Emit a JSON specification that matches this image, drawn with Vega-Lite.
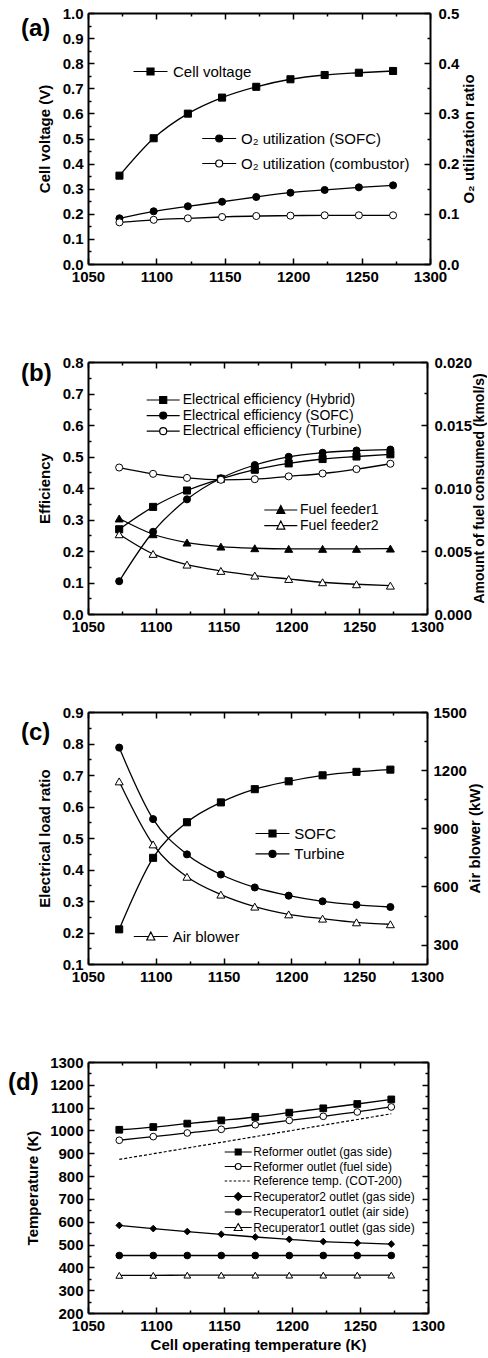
{
"$schema": "https://vega.github.io/schema/vega-lite/v6.json",
"padding": {"left": 8, "top": 6, "right": 0, "bottom": 0},
"spacing": 71,
"resolve": {"scale": {"shape": "independent", "fill": "independent"}, "legend": {"shape": "independent", "fill": "independent"}},
"config": {
  "font": "Liberation Sans",
  "view": {"stroke": null},
  "axis": {"labelFont": "Liberation Sans", "labelFontSize": 15, "labelFontWeight": "bold", "labelColor": "black", "titleFont": "Liberation Sans", "titleFontSize": 15, "titleFontWeight": "bold", "titleColor": "black", "domainColor": "black", "domainWidth": 2, "tickColor": "black", "tickWidth": 1.5, "tickSize": -6, "labelPadding": 11, "grid": false, "labelFlush": false, "labelOverlap": false},
  "legend": {"labelFont": "Liberation Sans", "labelColor": "black", "padding": 0, "offset": 0, "labelLimit": 400},
  "title": {"font": "Liberation Sans", "fontSize": 24, "fontWeight": "bold", "color": "black", "anchor": "start", "frame": "group", "orient": "top", "baseline": "middle", "offset": 0}
},
"datasets": {
  "aL": [
    {"T": 1073, "s": "Cell voltage", "v": 0.352}, {"T": 1098, "s": "Cell voltage", "v": 0.501}, {"T": 1123, "s": "Cell voltage", "v": 0.599}, {"T": 1148, "s": "Cell voltage", "v": 0.663}, {"T": 1173, "s": "Cell voltage", "v": 0.706}, {"T": 1198, "s": "Cell voltage", "v": 0.736}, {"T": 1223, "s": "Cell voltage", "v": 0.753}, {"T": 1248, "s": "Cell voltage", "v": 0.762}, {"T": 1273, "s": "Cell voltage", "v": 0.769}
  ],
  "aR": [
    {"T": 1073, "s": "O₂ utilization (SOFC)", "v": 0.091}, {"T": 1098, "s": "O₂ utilization (SOFC)", "v": 0.105}, {"T": 1123, "s": "O₂ utilization (SOFC)", "v": 0.115}, {"T": 1148, "s": "O₂ utilization (SOFC)", "v": 0.124}, {"T": 1173, "s": "O₂ utilization (SOFC)", "v": 0.1335}, {"T": 1198, "s": "O₂ utilization (SOFC)", "v": 0.142}, {"T": 1223, "s": "O₂ utilization (SOFC)", "v": 0.1475}, {"T": 1248, "s": "O₂ utilization (SOFC)", "v": 0.1527}, {"T": 1273, "s": "O₂ utilization (SOFC)", "v": 0.1567},
    {"T": 1073, "s": "O₂ utilization (combustor)", "v": 0.083}, {"T": 1098, "s": "O₂ utilization (combustor)", "v": 0.088}, {"T": 1123, "s": "O₂ utilization (combustor)", "v": 0.091}, {"T": 1148, "s": "O₂ utilization (combustor)", "v": 0.0936}, {"T": 1173, "s": "O₂ utilization (combustor)", "v": 0.0956}, {"T": 1198, "s": "O₂ utilization (combustor)", "v": 0.0963}, {"T": 1223, "s": "O₂ utilization (combustor)", "v": 0.097}, {"T": 1248, "s": "O₂ utilization (combustor)", "v": 0.097}, {"T": 1273, "s": "O₂ utilization (combustor)", "v": 0.097}
  ],
  "bL": [
    {"T": 1073, "s": "Electrical efficiency (Hybrid)", "v": 0.269}, {"T": 1098, "s": "Electrical efficiency (Hybrid)", "v": 0.340}, {"T": 1123, "s": "Electrical efficiency (Hybrid)", "v": 0.392}, {"T": 1148, "s": "Electrical efficiency (Hybrid)", "v": 0.429}, {"T": 1173, "s": "Electrical efficiency (Hybrid)", "v": 0.458}, {"T": 1198, "s": "Electrical efficiency (Hybrid)", "v": 0.478}, {"T": 1223, "s": "Electrical efficiency (Hybrid)", "v": 0.492}, {"T": 1248, "s": "Electrical efficiency (Hybrid)", "v": 0.500}, {"T": 1273, "s": "Electrical efficiency (Hybrid)", "v": 0.507},
    {"T": 1073, "s": "Electrical efficiency (SOFC)", "v": 0.104}, {"T": 1098, "s": "Electrical efficiency (SOFC)", "v": 0.261}, {"T": 1123, "s": "Electrical efficiency (SOFC)", "v": 0.364}, {"T": 1148, "s": "Electrical efficiency (SOFC)", "v": 0.431}, {"T": 1173, "s": "Electrical efficiency (SOFC)", "v": 0.473}, {"T": 1198, "s": "Electrical efficiency (SOFC)", "v": 0.499}, {"T": 1223, "s": "Electrical efficiency (SOFC)", "v": 0.512}, {"T": 1248, "s": "Electrical efficiency (SOFC)", "v": 0.519}, {"T": 1273, "s": "Electrical efficiency (SOFC)", "v": 0.522},
    {"T": 1073, "s": "Electrical efficiency (Turbine)", "v": 0.465}, {"T": 1098, "s": "Electrical efficiency (Turbine)", "v": 0.445}, {"T": 1123, "s": "Electrical efficiency (Turbine)", "v": 0.432}, {"T": 1148, "s": "Electrical efficiency (Turbine)", "v": 0.426}, {"T": 1173, "s": "Electrical efficiency (Turbine)", "v": 0.428}, {"T": 1198, "s": "Electrical efficiency (Turbine)", "v": 0.437}, {"T": 1223, "s": "Electrical efficiency (Turbine)", "v": 0.446}, {"T": 1248, "s": "Electrical efficiency (Turbine)", "v": 0.460}, {"T": 1273, "s": "Electrical efficiency (Turbine)", "v": 0.477}
  ],
  "bR": [
    {"T": 1073, "s": "Fuel feeder1", "v": 0.00758}, {"T": 1098, "s": "Fuel feeder1", "v": 0.00633}, {"T": 1123, "s": "Fuel feeder1", "v": 0.00567}, {"T": 1148, "s": "Fuel feeder1", "v": 0.00535}, {"T": 1173, "s": "Fuel feeder1", "v": 0.00522}, {"T": 1198, "s": "Fuel feeder1", "v": 0.00517}, {"T": 1223, "s": "Fuel feeder1", "v": 0.00517}, {"T": 1248, "s": "Fuel feeder1", "v": 0.00517}, {"T": 1273, "s": "Fuel feeder1", "v": 0.00519},
    {"T": 1073, "s": "Fuel feeder2", "v": 0.00633}, {"T": 1098, "s": "Fuel feeder2", "v": 0.00477}, {"T": 1123, "s": "Fuel feeder2", "v": 0.00392}, {"T": 1148, "s": "Fuel feeder2", "v": 0.00342}, {"T": 1173, "s": "Fuel feeder2", "v": 0.00305}, {"T": 1198, "s": "Fuel feeder2", "v": 0.00278}, {"T": 1223, "s": "Fuel feeder2", "v": 0.00252}, {"T": 1248, "s": "Fuel feeder2", "v": 0.00236}, {"T": 1273, "s": "Fuel feeder2", "v": 0.00225}
  ],
  "cL": [
    {"T": 1073, "s": "SOFC", "v": 0.210}, {"T": 1098, "s": "SOFC", "v": 0.437}, {"T": 1123, "s": "SOFC", "v": 0.550}, {"T": 1148, "s": "SOFC", "v": 0.613}, {"T": 1173, "s": "SOFC", "v": 0.655}, {"T": 1198, "s": "SOFC", "v": 0.680}, {"T": 1223, "s": "SOFC", "v": 0.699}, {"T": 1248, "s": "SOFC", "v": 0.710}, {"T": 1273, "s": "SOFC", "v": 0.717},
    {"T": 1073, "s": "Turbine", "v": 0.787}, {"T": 1098, "s": "Turbine", "v": 0.560}, {"T": 1123, "s": "Turbine", "v": 0.448}, {"T": 1148, "s": "Turbine", "v": 0.384}, {"T": 1173, "s": "Turbine", "v": 0.343}, {"T": 1198, "s": "Turbine", "v": 0.317}, {"T": 1223, "s": "Turbine", "v": 0.299}, {"T": 1248, "s": "Turbine", "v": 0.288}, {"T": 1273, "s": "Turbine", "v": 0.281}
  ],
  "cR": [
    {"T": 1073, "s": "Air blower", "v": 1142}, {"T": 1098, "s": "Air blower", "v": 817}, {"T": 1123, "s": "Air blower", "v": 650}, {"T": 1148, "s": "Air blower", "v": 558}, {"T": 1173, "s": "Air blower", "v": 496}, {"T": 1198, "s": "Air blower", "v": 456}, {"T": 1223, "s": "Air blower", "v": 434}, {"T": 1248, "s": "Air blower", "v": 415}, {"T": 1273, "s": "Air blower", "v": 405}
  ],
  "dM": [
    {"T": 1073, "s": "Reformer outlet (gas side)", "v": 1003}, {"T": 1098, "s": "Reformer outlet (gas side)", "v": 1015}, {"T": 1123, "s": "Reformer outlet (gas side)", "v": 1030}, {"T": 1148, "s": "Reformer outlet (gas side)", "v": 1044}, {"T": 1173, "s": "Reformer outlet (gas side)", "v": 1059}, {"T": 1198, "s": "Reformer outlet (gas side)", "v": 1078}, {"T": 1223, "s": "Reformer outlet (gas side)", "v": 1097}, {"T": 1248, "s": "Reformer outlet (gas side)", "v": 1116}, {"T": 1273, "s": "Reformer outlet (gas side)", "v": 1136},
    {"T": 1073, "s": "Reformer outlet (fuel side)", "v": 957}, {"T": 1098, "s": "Reformer outlet (fuel side)", "v": 973}, {"T": 1123, "s": "Reformer outlet (fuel side)", "v": 989}, {"T": 1148, "s": "Reformer outlet (fuel side)", "v": 1005}, {"T": 1173, "s": "Reformer outlet (fuel side)", "v": 1025}, {"T": 1198, "s": "Reformer outlet (fuel side)", "v": 1044}, {"T": 1223, "s": "Reformer outlet (fuel side)", "v": 1062}, {"T": 1248, "s": "Reformer outlet (fuel side)", "v": 1081}, {"T": 1273, "s": "Reformer outlet (fuel side)", "v": 1103},
    {"T": 1073, "s": "Recuperator2 outlet (gas side)", "v": 584}, {"T": 1098, "s": "Recuperator2 outlet (gas side)", "v": 570}, {"T": 1123, "s": "Recuperator2 outlet (gas side)", "v": 557}, {"T": 1148, "s": "Recuperator2 outlet (gas side)", "v": 545}, {"T": 1173, "s": "Recuperator2 outlet (gas side)", "v": 533}, {"T": 1198, "s": "Recuperator2 outlet (gas side)", "v": 523}, {"T": 1223, "s": "Recuperator2 outlet (gas side)", "v": 513}, {"T": 1248, "s": "Recuperator2 outlet (gas side)", "v": 507}, {"T": 1273, "s": "Recuperator2 outlet (gas side)", "v": 502},
    {"T": 1073, "s": "Recuperator1 outlet (air side)", "v": 452}, {"T": 1098, "s": "Recuperator1 outlet (air side)", "v": 452}, {"T": 1123, "s": "Recuperator1 outlet (air side)", "v": 452}, {"T": 1148, "s": "Recuperator1 outlet (air side)", "v": 452}, {"T": 1173, "s": "Recuperator1 outlet (air side)", "v": 452}, {"T": 1198, "s": "Recuperator1 outlet (air side)", "v": 452}, {"T": 1223, "s": "Recuperator1 outlet (air side)", "v": 452}, {"T": 1248, "s": "Recuperator1 outlet (air side)", "v": 452}, {"T": 1273, "s": "Recuperator1 outlet (air side)", "v": 452},
    {"T": 1073, "s": "Recuperator1 outlet (gas side)", "v": 365}, {"T": 1098, "s": "Recuperator1 outlet (gas side)", "v": 365}, {"T": 1123, "s": "Recuperator1 outlet (gas side)", "v": 366}, {"T": 1148, "s": "Recuperator1 outlet (gas side)", "v": 366}, {"T": 1173, "s": "Recuperator1 outlet (gas side)", "v": 366}, {"T": 1198, "s": "Recuperator1 outlet (gas side)", "v": 366}, {"T": 1223, "s": "Recuperator1 outlet (gas side)", "v": 366}, {"T": 1248, "s": "Recuperator1 outlet (gas side)", "v": 366}, {"T": 1273, "s": "Recuperator1 outlet (gas side)", "v": 366}
  ],
  "dRef": [
    {"T": 1073, "s": "Reference temp. (COT-200)", "v": 873}, {"T": 1098, "s": "Reference temp. (COT-200)", "v": 898}, {"T": 1123, "s": "Reference temp. (COT-200)", "v": 923}, {"T": 1148, "s": "Reference temp. (COT-200)", "v": 948}, {"T": 1173, "s": "Reference temp. (COT-200)", "v": 973}, {"T": 1198, "s": "Reference temp. (COT-200)", "v": 998}, {"T": 1223, "s": "Reference temp. (COT-200)", "v": 1023}, {"T": 1248, "s": "Reference temp. (COT-200)", "v": 1048}, {"T": 1273, "s": "Reference temp. (COT-200)", "v": 1073}
  ]
},
"vconcat": [
{
  "width": 342, "height": 251,
  "title": {"text": "(a)", "dx": -67, "dy": 39},
  "resolve": {"scale": {"y": "independent", "shape": "independent", "fill": "independent"}, "axis": {"x": "independent", "y": "independent"}, "legend": {"shape": "independent", "fill": "independent"}},
  "layer": [
    {
      "data": {"name": "aL"},
      "resolve": {"scale": {"shape": "independent", "fill": "independent"}, "axis": {"x": "independent", "y": "independent"}, "legend": {"shape": "independent", "fill": "independent"}},
      "layer": [
        {"mark": {"type": "line", "interpolate": "monotone", "stroke": "black", "strokeWidth": 1.3},
         "encoding": {
           "x": {"field": "T", "type": "quantitative", "scale": {"domain": [1050, 1300], "nice": false, "zero": false}, "axis": {"orient": "bottom", "title": null, "format": "d", "values": [1050,1100,1150,1200,1250,1300]}},
           "y": {"field": "v", "type": "quantitative", "scale": {"domain": [0, 1], "nice": false}, "axis": {"orient": "left", "title": "Cell voltage (V)", "titlePadding": 10, "format": ".1f", "values": [0,0.1,0.2,0.3,0.4,0.5,0.6,0.7,0.8,0.9,1]}},
           "detail": {"field": "s"}}},
        {"mark": {"type": "point", "filled": true, "stroke": "black", "strokeWidth": 1, "size": 50, "opacity": 1},
         "encoding": {
           "x": {"field": "T", "type": "quantitative", "scale": {"domain": [1050, 1300], "nice": false, "zero": false}, "axis": null},
           "y": {"field": "v", "type": "quantitative", "scale": {"domain": [0, 1], "nice": false}, "axis": null},
           "shape": {"field": "s", "type": "nominal", "scale": {"domain": ["Cell voltage"], "range": ["square"]}, "legend": null},
           "fill": {"field": "s", "type": "nominal", "scale": {"domain": ["Cell voltage"], "range": ["black"]}, "legend": null}}},
        {"mark": {"type": "point", "filled": true, "stroke": "black", "strokeWidth": 1.2, "size": 4, "opacity": 0},
         "encoding": {
           "x": {"field": "T", "type": "quantitative", "scale": {"domain": [1050, 1300], "nice": false, "zero": false}, "axis": null},
           "y": {"field": "v", "type": "quantitative", "scale": {"domain": [0, 1], "nice": false}, "axis": null},
           "shape": {"field": "s", "type": "nominal", "scale": {"domain": ["Cell voltage"], "range": ["M0,0H13.5M20.5,0H34M13.5,-3.5H20.5V3.5H13.5Z"]},
             "legend": {"title": null, "orient": "none", "direction": "vertical", "legendX": 38, "legendY": 51, "labelFontSize": 15, "rowPadding": 9, "labelOffset": 32, "symbolSize": 4, "symbolStrokeWidth": 1.2, "symbolOpacity": 1, "encode": {"symbols": {"stroke": {"value": "black"}, "strokeWidth": {"value": 1.2}, "size": {"value": 4}, "opacity": {"value": 1}}}}},
           "fill": {"field": "s", "type": "nominal", "scale": {"domain": ["Cell voltage"], "range": ["black"]}}}},
        {"mark": {"type": "point", "opacity": 0},
         "encoding": {
           "x": {"field": "T", "type": "quantitative", "scale": {"domain": [1050, 1300], "nice": false, "zero": false}, "axis": {"orient": "bottom", "title": null, "labels": false, "domain": false, "tickSize": -3, "values": [1075,1125,1175,1225,1275]}},
           "y": {"field": "v", "type": "quantitative", "scale": {"domain": [0, 1], "nice": false}, "axis": {"orient": "left", "title": null, "labels": false, "domain": false, "tickSize": -3, "values": [0.05,0.15,0.25,0.35,0.45,0.55,0.65,0.75,0.85,0.95]}}}}
      ]
    },
    {
      "data": {"name": "aR"},
      "resolve": {"scale": {"shape": "independent", "fill": "independent"}, "axis": {"x": "independent", "y": "independent"}, "legend": {"shape": "independent", "fill": "independent"}},
      "layer": [
        {"mark": {"type": "line", "interpolate": "monotone", "stroke": "black", "strokeWidth": 1.3},
         "encoding": {
           "x": {"field": "T", "type": "quantitative", "scale": {"domain": [1050, 1300], "nice": false, "zero": false}, "axis": {"orient": "top", "title": null, "labels": false, "values": [1050,1100,1150,1200,1250,1300]}},
           "y": {"field": "v", "type": "quantitative", "scale": {"domain": [0, 0.5], "nice": false}, "axis": {"orient": "right", "title": "O₂ utilization ratio", "titleAngle": 270, "titleBaseline": "top", "titlePadding": 3, "format": ".1f", "labelPadding": 14, "values": [0,0.1,0.2,0.3,0.4,0.5]}},
           "detail": {"field": "s"}}},
        {"mark": {"type": "point", "filled": true, "stroke": "black", "strokeWidth": 1, "size": 50, "opacity": 1},
         "encoding": {
           "x": {"field": "T", "type": "quantitative", "scale": {"domain": [1050, 1300], "nice": false, "zero": false}, "axis": null},
           "y": {"field": "v", "type": "quantitative", "scale": {"domain": [0, 0.5], "nice": false}, "axis": null},
           "shape": {"field": "s", "type": "nominal", "scale": {"domain": ["O₂ utilization (SOFC)", "O₂ utilization (combustor)"], "range": ["circle", "circle"]}, "legend": null},
           "fill": {"field": "s", "type": "nominal", "scale": {"domain": ["O₂ utilization (SOFC)", "O₂ utilization (combustor)"], "range": ["black", "white"]}, "legend": null}}},
        {"mark": {"type": "point", "filled": true, "stroke": "black", "strokeWidth": 1.2, "size": 4, "opacity": 0},
         "encoding": {
           "x": {"field": "T", "type": "quantitative", "scale": {"domain": [1050, 1300], "nice": false, "zero": false}, "axis": null},
           "y": {"field": "v", "type": "quantitative", "scale": {"domain": [0, 0.5], "nice": false}, "axis": null},
           "shape": {"field": "s", "type": "nominal", "scale": {"domain": ["O₂ utilization (SOFC)", "O₂ utilization (combustor)"], "range": ["M0,0H13.5M20.5,0H34M20.5,0A3.5,3.5 0 1,1 13.5,0A3.5,3.5 0 1,1 20.5,0Z", "M0,0H13.5M20.5,0H34M20.5,0A3.5,3.5 0 1,1 13.5,0A3.5,3.5 0 1,1 20.5,0Z"]},
             "legend": {"title": null, "orient": "none", "direction": "vertical", "legendX": 106.7, "legendY": 118, "labelFontSize": 15, "rowPadding": 9, "labelOffset": 31.3, "symbolSize": 4, "symbolStrokeWidth": 1.2, "symbolOpacity": 1, "encode": {"symbols": {"stroke": {"value": "black"}, "strokeWidth": {"value": 1.2}, "size": {"value": 4}, "opacity": {"value": 1}}}}},
           "fill": {"field": "s", "type": "nominal", "scale": {"domain": ["O₂ utilization (SOFC)", "O₂ utilization (combustor)"], "range": ["black", "white"]}}}},
        {"mark": {"type": "point", "opacity": 0},
         "encoding": {
           "x": {"field": "T", "type": "quantitative", "scale": {"domain": [1050, 1300], "nice": false, "zero": false}, "axis": {"orient": "top", "title": null, "labels": false, "domain": false, "tickSize": -3, "values": [1075,1125,1175,1225,1275]}},
           "y": {"field": "v", "type": "quantitative", "scale": {"domain": [0, 0.5], "nice": false}, "axis": {"orient": "right", "title": null, "labels": false, "domain": false, "tickSize": -3, "values": [0.05,0.15,0.25,0.35,0.45]}}}}
      ]
    }
  ]
},
{
  "width": 339, "height": 252,
  "title": {"text": "(b)", "dx": -67, "dy": 35},
  "resolve": {"scale": {"y": "independent", "shape": "independent", "fill": "independent"}, "axis": {"x": "independent", "y": "independent"}, "legend": {"shape": "independent", "fill": "independent"}},
  "layer": [
    {
      "data": {"name": "bL"},
      "resolve": {"scale": {"shape": "independent", "fill": "independent"}, "axis": {"x": "independent", "y": "independent"}, "legend": {"shape": "independent", "fill": "independent"}},
      "layer": [
        {"mark": {"type": "line", "interpolate": "monotone", "stroke": "black", "strokeWidth": 1.3},
         "encoding": {
           "x": {"field": "T", "type": "quantitative", "scale": {"domain": [1050, 1300], "nice": false, "zero": false}, "axis": {"orient": "bottom", "title": null, "format": "d", "values": [1050,1100,1150,1200,1250,1300]}},
           "y": {"field": "v", "type": "quantitative", "scale": {"domain": [0, 0.8], "nice": false}, "axis": {"orient": "left", "title": "Efficiency", "titlePadding": 10, "format": ".1f", "values": [0,0.1,0.2,0.3,0.4,0.5,0.6,0.7,0.8]}},
           "detail": {"field": "s"}}},
        {"mark": {"type": "point", "filled": true, "stroke": "black", "strokeWidth": 1, "size": 50, "opacity": 1},
         "encoding": {
           "x": {"field": "T", "type": "quantitative", "scale": {"domain": [1050, 1300], "nice": false, "zero": false}, "axis": null},
           "y": {"field": "v", "type": "quantitative", "scale": {"domain": [0, 0.8], "nice": false}, "axis": null},
           "shape": {"field": "s", "type": "nominal", "scale": {"domain": ["Electrical efficiency (Hybrid)", "Electrical efficiency (SOFC)", "Electrical efficiency (Turbine)"], "range": ["square", "circle", "circle"]}, "legend": null},
           "fill": {"field": "s", "type": "nominal", "scale": {"domain": ["Electrical efficiency (Hybrid)", "Electrical efficiency (SOFC)", "Electrical efficiency (Turbine)"], "range": ["black", "black", "white"]}, "legend": null}}},
        {"mark": {"type": "point", "filled": true, "stroke": "black", "strokeWidth": 1.2, "size": 4, "opacity": 0},
         "encoding": {
           "x": {"field": "T", "type": "quantitative", "scale": {"domain": [1050, 1300], "nice": false, "zero": false}, "axis": null},
           "y": {"field": "v", "type": "quantitative", "scale": {"domain": [0, 0.8], "nice": false}, "axis": null},
           "shape": {"field": "s", "type": "nominal", "scale": {"domain": ["Electrical efficiency (Hybrid)", "Electrical efficiency (SOFC)", "Electrical efficiency (Turbine)"], "range": ["M0,0H13M20,0H33M13,-3.5H20V3.5H13Z", "M0,0H13M20,0H33M20,0A3.5,3.5 0 1,1 13,0A3.5,3.5 0 1,1 20,0Z", "M0,0H13M20,0H33M20,0A3.5,3.5 0 1,1 13,0A3.5,3.5 0 1,1 20,0Z"]},
             "legend": {"title": null, "orient": "none", "direction": "vertical", "legendX": 51.7, "legendY": 31, "labelFontSize": 14, "rowPadding": 1.6, "labelOffset": 29, "symbolSize": 4, "symbolStrokeWidth": 1.2, "symbolOpacity": 1, "encode": {"symbols": {"stroke": {"value": "black"}, "strokeWidth": {"value": 1.2}, "size": {"value": 4}, "opacity": {"value": 1}}}}},
           "fill": {"field": "s", "type": "nominal", "scale": {"domain": ["Electrical efficiency (Hybrid)", "Electrical efficiency (SOFC)", "Electrical efficiency (Turbine)"], "range": ["black", "black", "white"]}}}},
        {"mark": {"type": "point", "opacity": 0},
         "encoding": {
           "x": {"field": "T", "type": "quantitative", "scale": {"domain": [1050, 1300], "nice": false, "zero": false}, "axis": {"orient": "bottom", "title": null, "labels": false, "domain": false, "tickSize": -3, "values": [1075,1125,1175,1225,1275]}},
           "y": {"field": "v", "type": "quantitative", "scale": {"domain": [0, 0.8], "nice": false}, "axis": {"orient": "left", "title": null, "labels": false, "domain": false, "tickSize": -3, "values": [0.05,0.15,0.25,0.35,0.45,0.55,0.65,0.75]}}}}
      ]
    },
    {
      "data": {"name": "bR"},
      "resolve": {"scale": {"shape": "independent", "fill": "independent"}, "axis": {"x": "independent", "y": "independent"}, "legend": {"shape": "independent", "fill": "independent"}},
      "layer": [
        {"mark": {"type": "line", "interpolate": "monotone", "stroke": "black", "strokeWidth": 1.3},
         "encoding": {
           "x": {"field": "T", "type": "quantitative", "scale": {"domain": [1050, 1300], "nice": false, "zero": false}, "axis": {"orient": "top", "title": null, "labels": false, "values": [1050,1100,1150,1200,1250,1300]}},
           "y": {"field": "v", "type": "quantitative", "scale": {"domain": [0, 0.02], "nice": false}, "axis": {"orient": "right", "title": "Amount of fuel consumed (kmol/s)", "titleFontSize": 14, "titleAngle": 270, "titleBaseline": "top", "titlePadding": 1, "format": ".3f", "labelPadding": 13, "values": [0,0.005,0.01,0.015,0.02]}},
           "detail": {"field": "s"}}},
        {"mark": {"type": "point", "filled": true, "stroke": "black", "strokeWidth": 1, "size": 64, "opacity": 1},
         "encoding": {
           "x": {"field": "T", "type": "quantitative", "scale": {"domain": [1050, 1300], "nice": false, "zero": false}, "axis": null},
           "y": {"field": "v", "type": "quantitative", "scale": {"domain": [0, 0.02], "nice": false}, "axis": null},
           "shape": {"field": "s", "type": "nominal", "scale": {"domain": ["Fuel feeder1", "Fuel feeder2"], "range": ["triangle-up", "triangle-up"]}, "legend": null},
           "fill": {"field": "s", "type": "nominal", "scale": {"domain": ["Fuel feeder1", "Fuel feeder2"], "range": ["black", "white"]}, "legend": null}}},
        {"mark": {"type": "point", "filled": true, "stroke": "black", "strokeWidth": 1.2, "size": 4, "opacity": 0},
         "encoding": {
           "x": {"field": "T", "type": "quantitative", "scale": {"domain": [1050, 1300], "nice": false, "zero": false}, "axis": null},
           "y": {"field": "v", "type": "quantitative", "scale": {"domain": [0, 0.02], "nice": false}, "axis": null},
           "shape": {"field": "s", "type": "nominal", "scale": {"domain": ["Fuel feeder1", "Fuel feeder2"], "range": ["M0,0H14M19,0H33M16.5,-4.5L20.5,3.5H12.5Z", "M0,0H14M19,0H33M16.5,-4.5L20.5,3.5H12.5Z"]},
             "legend": {"title": null, "orient": "none", "direction": "vertical", "legendX": 169.3, "legendY": 141, "labelFontSize": 14, "rowPadding": 1.6, "labelOffset": 28.7, "symbolSize": 4, "symbolStrokeWidth": 1.2, "symbolOpacity": 1, "encode": {"symbols": {"stroke": {"value": "black"}, "strokeWidth": {"value": 1.2}, "size": {"value": 4}, "opacity": {"value": 1}}}}},
           "fill": {"field": "s", "type": "nominal", "scale": {"domain": ["Fuel feeder1", "Fuel feeder2"], "range": ["black", "white"]}}}},
        {"mark": {"type": "point", "opacity": 0},
         "encoding": {
           "x": {"field": "T", "type": "quantitative", "scale": {"domain": [1050, 1300], "nice": false, "zero": false}, "axis": {"orient": "top", "title": null, "labels": false, "domain": false, "tickSize": -3, "values": [1075,1125,1175,1225,1275]}},
           "y": {"field": "v", "type": "quantitative", "scale": {"domain": [0, 0.02], "nice": false}, "axis": {"orient": "right", "title": null, "labels": false, "domain": false, "tickSize": -3, "values": [0.0025,0.0075,0.0125,0.0175]}}}}
      ]
    }
  ]
},
{
  "width": 339, "height": 252,
  "title": {"text": "(c)", "dx": -67, "dy": 44},
  "resolve": {"scale": {"y": "independent", "shape": "independent", "fill": "independent"}, "axis": {"x": "independent", "y": "independent"}, "legend": {"shape": "independent", "fill": "independent"}},
  "layer": [
    {
      "data": {"name": "cL"},
      "resolve": {"scale": {"shape": "independent", "fill": "independent"}, "axis": {"x": "independent", "y": "independent"}, "legend": {"shape": "independent", "fill": "independent"}},
      "layer": [
        {"mark": {"type": "line", "interpolate": "monotone", "stroke": "black", "strokeWidth": 1.3},
         "encoding": {
           "x": {"field": "T", "type": "quantitative", "scale": {"domain": [1050, 1300], "nice": false, "zero": false}, "axis": {"orient": "bottom", "title": null, "format": "d", "values": [1050,1100,1150,1200,1250,1300]}},
           "y": {"field": "v", "type": "quantitative", "scale": {"domain": [0.1, 0.9], "nice": false, "zero": false}, "axis": {"orient": "left", "title": "Electrical load ratio", "titlePadding": 10, "format": ".1f", "values": [0.1,0.2,0.3,0.4,0.5,0.6,0.7,0.8,0.9]}},
           "detail": {"field": "s"}}},
        {"mark": {"type": "point", "filled": true, "stroke": "black", "strokeWidth": 1, "size": 50, "opacity": 1},
         "encoding": {
           "x": {"field": "T", "type": "quantitative", "scale": {"domain": [1050, 1300], "nice": false, "zero": false}, "axis": null},
           "y": {"field": "v", "type": "quantitative", "scale": {"domain": [0.1, 0.9], "nice": false, "zero": false}, "axis": null},
           "shape": {"field": "s", "type": "nominal", "scale": {"domain": ["SOFC", "Turbine"], "range": ["square", "circle"]}, "legend": null},
           "fill": {"field": "s", "type": "nominal", "scale": {"domain": ["SOFC", "Turbine"], "range": ["black", "black"]}, "legend": null}}},
        {"mark": {"type": "point", "filled": true, "stroke": "black", "strokeWidth": 1.2, "size": 4, "opacity": 0},
         "encoding": {
           "x": {"field": "T", "type": "quantitative", "scale": {"domain": [1050, 1300], "nice": false, "zero": false}, "axis": null},
           "y": {"field": "v", "type": "quantitative", "scale": {"domain": [0.1, 0.9], "nice": false, "zero": false}, "axis": null},
           "shape": {"field": "s", "type": "nominal", "scale": {"domain": ["SOFC", "Turbine"], "range": ["M0,0H13.5M20.5,0H34M13.5,-3.5H20.5V3.5H13.5Z", "M0,0H13.5M20.5,0H34M20.5,0A3.5,3.5 0 1,1 13.5,0A3.5,3.5 0 1,1 20.5,0Z"]},
             "legend": {"title": null, "orient": "none", "direction": "vertical", "legendX": 160, "legendY": 114, "labelFontSize": 15, "rowPadding": 4.4, "labelOffset": 31.3, "symbolSize": 4, "symbolStrokeWidth": 1.2, "symbolOpacity": 1, "encode": {"symbols": {"stroke": {"value": "black"}, "strokeWidth": {"value": 1.2}, "size": {"value": 4}, "opacity": {"value": 1}}}}},
           "fill": {"field": "s", "type": "nominal", "scale": {"domain": ["SOFC", "Turbine"], "range": ["black", "black"]}}}},
        {"mark": {"type": "point", "opacity": 0},
         "encoding": {
           "x": {"field": "T", "type": "quantitative", "scale": {"domain": [1050, 1300], "nice": false, "zero": false}, "axis": {"orient": "bottom", "title": null, "labels": false, "domain": false, "tickSize": -3, "values": [1075,1125,1175,1225,1275]}},
           "y": {"field": "v", "type": "quantitative", "scale": {"domain": [0.1, 0.9], "nice": false, "zero": false}, "axis": {"orient": "left", "title": null, "labels": false, "domain": false, "tickSize": -3, "values": [0.15,0.25,0.35,0.45,0.55,0.65,0.75,0.85]}}}}
      ]
    },
    {
      "data": {"name": "cR"},
      "resolve": {"scale": {"shape": "independent", "fill": "independent"}, "axis": {"x": "independent", "y": "independent"}, "legend": {"shape": "independent", "fill": "independent"}},
      "layer": [
        {"mark": {"type": "line", "interpolate": "monotone", "stroke": "black", "strokeWidth": 1.3},
         "encoding": {
           "x": {"field": "T", "type": "quantitative", "scale": {"domain": [1050, 1300], "nice": false, "zero": false}, "axis": {"orient": "top", "title": null, "labels": false, "values": [1050,1100,1150,1200,1250,1300]}},
           "y": {"field": "v", "type": "quantitative", "scale": {"domain": [200, 1500], "nice": false, "zero": false}, "axis": {"orient": "right", "title": "Air blower (kW)", "titleAngle": 270, "titleBaseline": "top", "titlePadding": 1, "format": "d", "labelPadding": 12, "values": [300,600,900,1200,1500]}},
           "detail": {"field": "s"}}},
        {"mark": {"type": "point", "filled": true, "stroke": "black", "strokeWidth": 1, "size": 64, "opacity": 1},
         "encoding": {
           "x": {"field": "T", "type": "quantitative", "scale": {"domain": [1050, 1300], "nice": false, "zero": false}, "axis": null},
           "y": {"field": "v", "type": "quantitative", "scale": {"domain": [200, 1500], "nice": false, "zero": false}, "axis": null},
           "shape": {"field": "s", "type": "nominal", "scale": {"domain": ["Air blower"], "range": ["triangle-up"]}, "legend": null},
           "fill": {"field": "s", "type": "nominal", "scale": {"domain": ["Air blower"], "range": ["white"]}, "legend": null}}},
        {"mark": {"type": "point", "filled": true, "stroke": "black", "strokeWidth": 1.2, "size": 4, "opacity": 0},
         "encoding": {
           "x": {"field": "T", "type": "quantitative", "scale": {"domain": [1050, 1300], "nice": false, "zero": false}, "axis": null},
           "y": {"field": "v", "type": "quantitative", "scale": {"domain": [200, 1500], "nice": false, "zero": false}, "axis": null},
           "shape": {"field": "s", "type": "nominal", "scale": {"domain": ["Air blower"], "range": ["M0,0H14.5M19.5,0H34M17,-4.5L21,3.5H13Z"]},
             "legend": {"title": null, "orient": "none", "direction": "vertical", "legendX": 38.3, "legendY": 217, "labelFontSize": 15, "rowPadding": 4, "labelOffset": 31.4, "symbolSize": 4, "symbolStrokeWidth": 1.2, "symbolOpacity": 1, "encode": {"symbols": {"stroke": {"value": "black"}, "strokeWidth": {"value": 1.2}, "size": {"value": 4}, "opacity": {"value": 1}}}}},
           "fill": {"field": "s", "type": "nominal", "scale": {"domain": ["Air blower"], "range": ["white"]}}}},
        {"mark": {"type": "point", "opacity": 0},
         "encoding": {
           "x": {"field": "T", "type": "quantitative", "scale": {"domain": [1050, 1300], "nice": false, "zero": false}, "axis": {"orient": "top", "title": null, "labels": false, "domain": false, "tickSize": -3, "values": [1075,1125,1175,1225,1275]}},
           "y": {"field": "v", "type": "quantitative", "scale": {"domain": [200, 1500], "nice": false, "zero": false}, "axis": {"orient": "right", "title": null, "labels": false, "domain": false, "tickSize": -3, "values": [450,750,1050,1350]}}}}
      ]
    }
  ]
},
{
  "width": 340, "height": 251,
  "title": {"text": "(d)", "dx": -80, "dy": 44},
  "resolve": {"scale": {"shape": "independent", "fill": "independent"}, "axis": {"x": "independent", "y": "independent"}, "legend": {"shape": "independent", "fill": "independent"}},
  "layer": [
    {
      "data": {"name": "dM"},
      "resolve": {"scale": {"shape": "independent", "fill": "independent"}, "axis": {"x": "independent", "y": "independent"}, "legend": {"shape": "independent", "fill": "independent"}},
      "layer": [
        {"mark": {"type": "line", "interpolate": "monotone", "stroke": "black", "strokeWidth": 1.3},
         "encoding": {
           "x": {"field": "T", "type": "quantitative", "scale": {"domain": [1050, 1300], "nice": false, "zero": false}, "axis": {"orient": "bottom", "title": "Cell operating temperature (K)", "titlePadding": 4, "format": "d", "values": [1050,1100,1150,1200,1250,1300]}},
           "y": {"field": "v", "type": "quantitative", "scale": {"domain": [200, 1300], "nice": false, "zero": false}, "axis": {"orient": "left", "title": "Temperature (K)", "titlePadding": 9, "format": "d", "values": [200,300,400,500,600,700,800,900,1000,1100,1200,1300]}},
           "detail": {"field": "s"}}},
        {"mark": {"type": "point", "filled": true, "stroke": "black", "strokeWidth": 1, "size": 45, "opacity": 1},
         "encoding": {
           "x": {"field": "T", "type": "quantitative", "scale": {"domain": [1050, 1300], "nice": false, "zero": false}, "axis": null},
           "y": {"field": "v", "type": "quantitative", "scale": {"domain": [200, 1300], "nice": false, "zero": false}, "axis": null},
           "shape": {"field": "s", "type": "nominal", "scale": {"domain": ["Reformer outlet (gas side)", "Reformer outlet (fuel side)", "Recuperator2 outlet (gas side)", "Recuperator1 outlet (air side)", "Recuperator1 outlet (gas side)"], "range": ["square", "circle", "diamond", "circle", "triangle-up"]}, "legend": null},
           "fill": {"field": "s", "type": "nominal", "scale": {"domain": ["Reformer outlet (gas side)", "Reformer outlet (fuel side)", "Recuperator2 outlet (gas side)", "Recuperator1 outlet (air side)", "Recuperator1 outlet (gas side)"], "range": ["black", "white", "black", "black", "white"]}, "legend": null}}},
        {"mark": {"type": "point", "filled": true, "stroke": "black", "strokeWidth": 1.1, "size": 4, "opacity": 0},
         "encoding": {
           "x": {"field": "T", "type": "quantitative", "scale": {"domain": [1050, 1300], "nice": false, "zero": false}, "axis": null},
           "y": {"field": "v", "type": "quantitative", "scale": {"domain": [200, 1300], "nice": false, "zero": false}, "axis": null},
           "shape": {"field": "s", "type": "nominal", "scale": {"domain": ["Reformer outlet (gas side)", "Reformer outlet (fuel side)", "Reference temp. (COT-200)", "Recuperator2 outlet (gas side)", "Recuperator1 outlet (air side)", "Recuperator1 outlet (gas side)"], "range": ["M0,0H10.5M16.5,0H27M10.5,-3H16.5V3H10.5Z", "M0,0H10.5M16.5,0H27M16.5,0A3,3 0 1,1 10.5,0A3,3 0 1,1 16.5,0Z", "M0,0H2.5M4.5,0H7M9,0H11.5M13.5,0H16M18,0H20.5M22.5,0H25", "M0,0H9.5M17.5,0H27M9.5,0L13.5,-4L17.5,0L13.5,4Z", "M0,0H10.5M16.5,0H27M16.5,0A3,3 0 1,1 10.5,0A3,3 0 1,1 16.5,0Z", "M0,0H11M16,0H27M13.5,-4L17.5,3H9.5Z"]},
             "legend": {"title": null, "orient": "none", "direction": "vertical", "legendX": 130.7, "legendY": 84, "labelFontSize": 12, "rowPadding": 2.5, "labelOffset": 22.6, "symbolSize": 4, "symbolStrokeWidth": 1.1, "symbolOpacity": 1, "encode": {"symbols": {"stroke": {"value": "black"}, "strokeWidth": {"value": 1.1}, "size": {"value": 4}, "opacity": {"value": 1}}}}},
           "fill": {"field": "s", "type": "nominal", "scale": {"domain": ["Reformer outlet (gas side)", "Reformer outlet (fuel side)", "Reference temp. (COT-200)", "Recuperator2 outlet (gas side)", "Recuperator1 outlet (air side)", "Recuperator1 outlet (gas side)"], "range": ["black", "white", "white", "black", "black", "white"]}}}},
        {"mark": {"type": "point", "opacity": 0},
         "encoding": {
           "x": {"field": "T", "type": "quantitative", "scale": {"domain": [1050, 1300], "nice": false, "zero": false}, "axis": {"orient": "bottom", "title": null, "labels": false, "domain": false, "tickSize": -3, "values": [1075,1125,1175,1225,1275]}},
           "y": {"field": "v", "type": "quantitative", "scale": {"domain": [200, 1300], "nice": false, "zero": false}, "axis": {"orient": "left", "title": null, "labels": false, "domain": false, "tickSize": -3, "values": [250,350,450,550,650,750,850,950,1050,1150,1250]}}}}
      ]
    },
    {
      "data": {"name": "dRef"},
      "resolve": {"axis": {"x": "independent", "y": "independent"}},
      "layer": [
        {"mark": {"type": "line", "stroke": "black", "strokeWidth": 1.2, "strokeDash": [3, 2]},
         "encoding": {
           "x": {"field": "T", "type": "quantitative", "scale": {"domain": [1050, 1300], "nice": false, "zero": false}, "axis": {"orient": "top", "title": null, "labels": false, "values": [1050,1100,1150,1200,1250,1300]}},
           "y": {"field": "v", "type": "quantitative", "scale": {"domain": [200, 1300], "nice": false, "zero": false}, "axis": {"orient": "right", "title": null, "labels": false, "values": [200,300,400,500,600,700,800,900,1000,1100,1200,1300]}}}},
        {"mark": {"type": "point", "opacity": 0},
         "encoding": {
           "x": {"field": "T", "type": "quantitative", "scale": {"domain": [1050, 1300], "nice": false, "zero": false}, "axis": {"orient": "top", "title": null, "labels": false, "domain": false, "tickSize": -3, "values": [1075,1125,1175,1225,1275]}},
           "y": {"field": "v", "type": "quantitative", "scale": {"domain": [200, 1300], "nice": false, "zero": false}, "axis": {"orient": "right", "title": null, "labels": false, "domain": false, "tickSize": -3, "values": [250,350,450,550,650,750,850,950,1050,1150,1250]}}}}
      ]
    }
  ]
}
]
}
